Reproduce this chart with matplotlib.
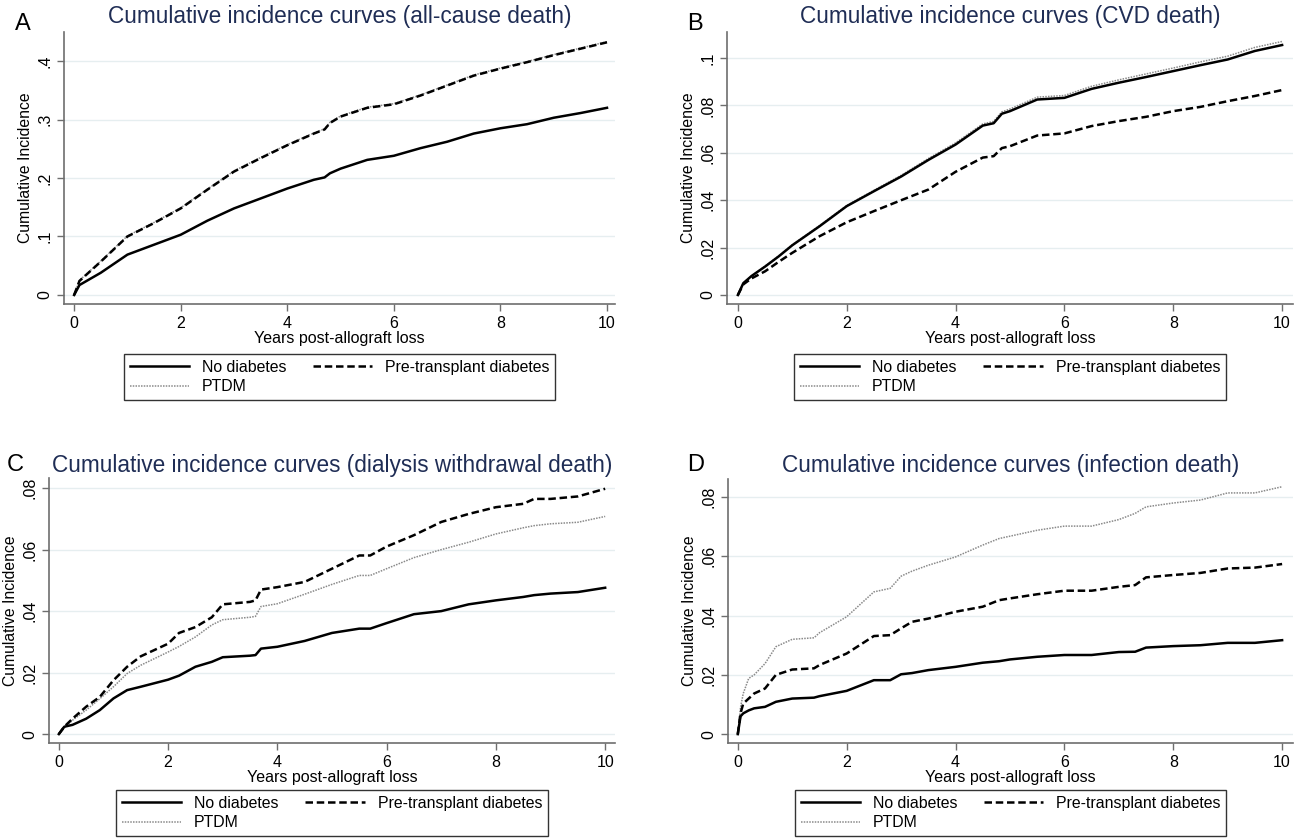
import matplotlib.pyplot as plt
from matplotlib.lines import Line2D

plt.rcParams['font.family'] = ['Liberation Sans', 'DejaVu Sans']

# A: all-cause death
years_a = [0, 0.1, 0.5, 1, 1.5, 2, 2.5, 3, 3.5, 4, 4.5, 4.7, 4.8, 5, 5.5, 6, 6.5, 7, 7.5, 8, 8.5, 9, 9.5, 10]
nodm_a = [0, 0.017, 0.038, 0.069, 0.086, 0.103, 0.127, 0.148, 0.165, 0.182, 0.197, 0.201, 0.208, 0.216,
          0.231, 0.238, 0.251, 0.262, 0.276, 0.285, 0.292, 0.303, 0.311, 0.320]
pre_a = [0, 0.024, 0.057, 0.100, 0.123, 0.148, 0.180, 0.211, 0.234, 0.256, 0.276, 0.283, 0.294, 0.305,
         0.320, 0.326, 0.341, 0.358, 0.375, 0.387, 0.398, 0.410, 0.421, 0.432]
ptdm_a = [0, 0.025, 0.058, 0.101, 0.124, 0.149, 0.181, 0.212, 0.235, 0.257, 0.277, 0.284, 0.295, 0.306,
          0.321, 0.327, 0.342, 0.359, 0.376, 0.388, 0.399, 0.411, 0.422, 0.433]

# B: CVD death
years_b = [0, 0.1, 0.25, 0.5, 0.75, 1, 1.5, 2, 2.5, 3, 3.5, 4, 4.5, 4.7, 4.85, 5, 5.5, 6, 6.5, 7, 7.5, 8, 8.5, 9, 9.5, 10]
nodm_b = [0, 0.005, 0.008, 0.012, 0.0163, 0.021, 0.029, 0.0375, 0.0438, 0.050, 0.057, 0.0635, 0.0715, 0.0725,
          0.0765, 0.0776, 0.0825, 0.0832, 0.087, 0.0896, 0.092, 0.0945, 0.097, 0.0994, 0.103, 0.1055]
pre_b = [0, 0.0045, 0.007, 0.010, 0.014, 0.0178, 0.0248, 0.0307, 0.0354, 0.040, 0.0445, 0.052, 0.058, 0.0586,
         0.062, 0.0628, 0.0673, 0.0682, 0.0713, 0.0734, 0.0752, 0.0776, 0.0794, 0.0818, 0.084, 0.0865]
ptdm_b = [0, 0.005, 0.008, 0.0122, 0.0165, 0.0212, 0.0293, 0.0378, 0.0442, 0.0505, 0.0576, 0.0642, 0.0722, 0.0733,
          0.0773, 0.0785, 0.0835, 0.0842, 0.0881, 0.0908, 0.0933, 0.0958, 0.0984, 0.1008, 0.1045, 0.107]

# C: dialysis withdrawal death
years_c = [0, 0.1, 0.25, 0.5, 0.75, 1, 1.25, 1.5, 2, 2.2, 2.5, 2.8, 3, 3.5, 3.6, 3.7, 4, 4.5, 5, 5.5, 5.7,
           6, 6.5, 7, 7.5, 8, 8.5, 8.7, 9, 9.5, 10]
nodm_c = [0, 0.0024, 0.003, 0.005, 0.0078, 0.0116, 0.0143, 0.0154, 0.0177, 0.019, 0.0219, 0.0235, 0.025, 0.0255,
          0.0257, 0.0278, 0.0284, 0.0303, 0.0329, 0.0343, 0.0343, 0.0361, 0.039, 0.040, 0.0422, 0.0435, 0.0446,
          0.0452, 0.0457, 0.0462, 0.0476]
pre_c = [0, 0.0024, 0.005, 0.0089, 0.0121, 0.0175, 0.0219, 0.0253, 0.0294, 0.0329, 0.0348, 0.038, 0.0422, 0.043,
         0.0435, 0.047, 0.0478, 0.0495, 0.0538, 0.0581, 0.0581, 0.061, 0.0647, 0.069, 0.0716, 0.0738, 0.0749,
         0.0765, 0.0765, 0.0773, 0.0798]
ptdm_c = [0, 0.002, 0.0045, 0.0078, 0.0115, 0.0154, 0.0197, 0.0224, 0.0267, 0.0285, 0.0316, 0.0355, 0.0372, 0.038,
          0.0383, 0.0415, 0.0424, 0.0455, 0.0487, 0.0516, 0.0516, 0.0538, 0.0574, 0.060, 0.0624, 0.0651, 0.0671,
          0.0678, 0.0684, 0.0689, 0.0708]

# D: infection death
years_d = [0, 0.05, 0.1, 0.2, 0.3, 0.5, 0.7, 1, 1.4, 1.5, 2, 2.5, 2.8, 3, 3.2, 3.5, 4, 4.5, 4.8, 5, 5.5,
           6, 6.5, 7, 7.3, 7.5, 8, 8.5, 9, 9.5, 10]
nodm_d = [0, 0.006, 0.007, 0.008, 0.0087, 0.0092, 0.0109, 0.012, 0.0123, 0.0128, 0.0146, 0.0182, 0.0182, 0.0202,
          0.0206, 0.0216, 0.0227, 0.0241, 0.0246, 0.0252, 0.0261, 0.0267, 0.0267, 0.0277, 0.0278, 0.0292, 0.0297,
          0.030, 0.0308, 0.0308, 0.0317]
pre_d = [0, 0.007, 0.0103, 0.012, 0.0137, 0.0154, 0.020, 0.0218, 0.0222, 0.0233, 0.0272, 0.0331, 0.0334, 0.0357,
         0.0379, 0.039, 0.0413, 0.043, 0.0452, 0.0458, 0.0472, 0.0484, 0.0484, 0.0497, 0.0503, 0.0529, 0.0537,
         0.0544, 0.0559, 0.0562, 0.0574]
ptdm_d = [0, 0.009, 0.0137, 0.0188, 0.020, 0.0238, 0.0295, 0.032, 0.0325, 0.0342, 0.0396, 0.048, 0.0492, 0.0533,
          0.055, 0.057, 0.0598, 0.0638, 0.066, 0.0668, 0.0688, 0.0702, 0.0702, 0.0724, 0.0745, 0.0767, 0.078,
          0.079, 0.0814, 0.0814, 0.0835]

titles = ['Cumulative incidence curves (all-cause death)',
          'Cumulative incidence curves (CVD death)',
          'Cumulative incidence curves (dialysis withdrawal death)',
          'Cumulative incidence curves (infection death)']
letters = ['A', 'B', 'C', 'D']
yticks_a = [0, 0.1, 0.2, 0.3, 0.4]
ylabels_a = ['0', '.1', '.2', '.3', '.4']
yticks_b = [0, 0.02, 0.04, 0.06, 0.08, 0.1]
ylabels_b = ['0', '.02', '.04', '.06', '.08', '.1']
yticks_cd = [0, 0.02, 0.04, 0.06, 0.08]
ylabels_cd = ['0', '.02', '.04', '.06', '.08']
xticks = [0, 2, 4, 6, 8, 10]
series_names = ['No diabetes', 'Pre-transplant diabetes', 'PTDM']

W, H = 1297, 838
fig = plt.figure(figsize=(W / 100, H / 100), dpi=100)

# pixel boxes (left, top, right, bottom) for each plot region
boxes = [(64, 32, 615, 304), (727, 32, 1293, 304), (49, 478, 615, 743), (728, 479, 1293, 743)]
ylims = [(-0.0154, 0.4496), (-0.0038, 0.111), (-0.0029, 0.0833), (-0.003, 0.0861)]
xlims = [(-0.19, 10.15), (-0.2, 10.2), (-0.18, 10.18), (-0.18, 10.2)]
title_y = [16, 16, 465, 465]
letter_xy = [(23, 24), (695, 24), (15, 465), (696, 465)]
legend_top = [354, 354, 790, 790]

data = [(years_a, nodm_a, pre_a, ptdm_a, yticks_a, ylabels_a),
        (years_b, nodm_b, pre_b, ptdm_b, yticks_b, ylabels_b),
        (years_c, nodm_c, pre_c, ptdm_c, yticks_cd, ylabels_cd),
        (years_d, nodm_d, pre_d, ptdm_d, yticks_cd, ylabels_cd)]

navy = '#1f2d55'
spine_col = '#6e6e6e'
grid_col = '#e6eef0'

for i, (yrs, nodm, pre, ptdm, yt, yl) in enumerate(data):
    l, t, r, b = boxes[i]
    ax = fig.add_axes([l / W, 1 - b / H, (r - l) / W, (b - t) / H])
    ax.plot(yrs, ptdm, color='#8a8a8a', lw=1.1, linestyle=(0, (1, 0.8)), zorder=2)
    ax.plot(yrs, nodm, color='black', lw=1.8, zorder=3)
    ax.plot(yrs, pre, color='black', lw=1.8, linestyle=(0, (3, 1.5)), zorder=4)
    ax.set_xlim(*xlims[i])
    ax.set_ylim(*ylims[i])
    ax.set_xticks(xticks)
    ax.set_xticklabels([str(x) for x in xticks])
    ax.set_yticks(yt)
    ax.set_yticklabels(yl, rotation=90, va='center')
    ax.grid(axis='y', color=grid_col, lw=1.0)
    ax.set_axisbelow(True)
    for s in ['top', 'right']:
        ax.spines[s].set_visible(False)
    for s in ['left', 'bottom']:
        ax.spines[s].set_color(spine_col)
        ax.spines[s].set_linewidth(1.2)
    ax.tick_params(colors=spine_col, labelcolor='black', labelsize=11.5, length=5, width=1)
    ax.set_xlabel('Years post-allograft loss', fontsize=11.5, labelpad=0)
    ax.set_ylabel('Cumulative Incidence', fontsize=11.3, labelpad=3)

    fig.text((l + r) / 2 / W, 1 - title_y[i] / H, titles[i], ha='center', va='center',
             fontsize=16.3, color=navy)
    fig.text(letter_xy[i][0] / W, 1 - letter_xy[i][1] / H, letters[i], ha='center', va='center',
             fontsize=17, color='black')

    handles = [Line2D([], [], color='black', lw=1.8),
               Line2D([], [], color='#8a8a8a', lw=1.1, linestyle=(0, (1, 0.8))),
               Line2D([], [], color='black', lw=1.8, linestyle=(0, (3, 1.5)))]
    labels = [series_names[0], series_names[2], series_names[1]]
    leg = fig.legend(handles, labels, loc='upper center', ncol=2,
                     bbox_to_anchor=((l + r) / 2 / W, 1 - legend_top[i] / H),
                     bbox_transform=fig.transFigure, borderaxespad=0,
                     fontsize=11.4, frameon=True, fancybox=False,
                     edgecolor='black', handlelength=3.75, columnspacing=1.7, handletextpad=0.8,
                     labelspacing=0.3, borderpad=0.35)
    leg.get_frame().set_linewidth(1.0)

plt.savefig('out.png', dpi=100)
